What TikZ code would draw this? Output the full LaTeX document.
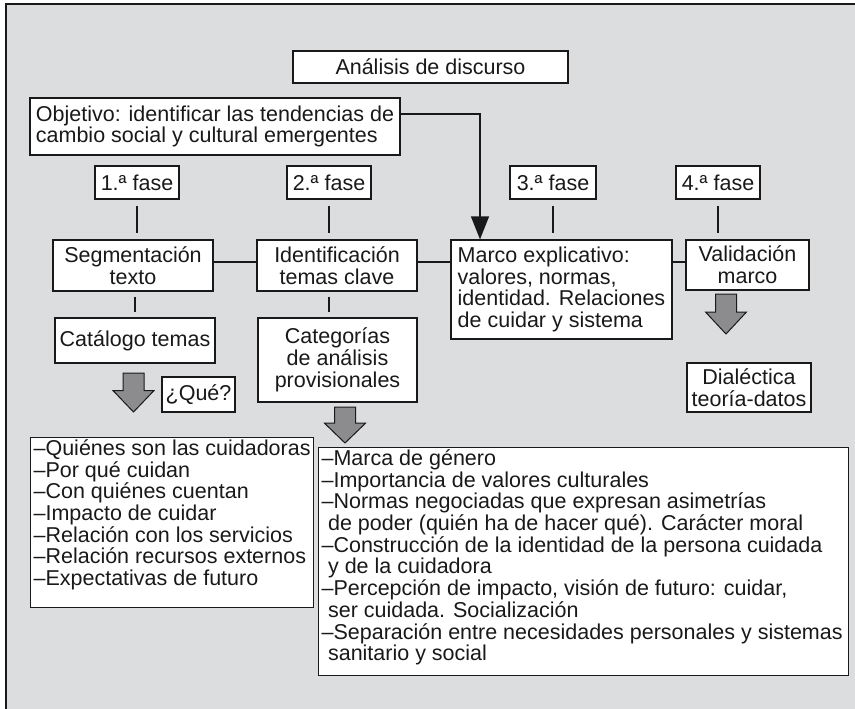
\documentclass[tikz,border=0pt]{standalone}
\usepackage{fontspec}
\setmainfont{Liberation Sans}
\usetikzlibrary{arrows.meta,calc}
\definecolor{bggray}{RGB}{220,221,223}
\definecolor{arrgray}{RGB}{140,140,142}
\definecolor{ink}{RGB}{25,25,25}
\newcommand\fsz{\fontsize{21.5}{21.7}\selectfont}
\newcommand\blockarrow[3]{%
  \draw[garrow] (#1-10.5,#2) -- (#1+10.5,#2) -- (#1+10.5,#2+0.45*#3) -- (#1+20.5,#2+0.45*#3)
    -- (#1,#2+#3) -- (#1-20.5,#2+0.45*#3) -- (#1-10.5,#2+0.45*#3) -- cycle;}
\begin{document}
\begin{tikzpicture}[x=1pt,y=-1pt,
  box/.style={draw=ink, line width=1.2pt, fill=white, inner sep=0pt, font=\fsz, text=ink},
  conn/.style={draw=ink, line width=1.2pt},
  garrow/.style={draw=ink, line width=1pt, fill=arrgray},
  frameline/.style={draw=ink, line width=2pt}]
\useasboundingbox (0,0) rectangle (855,709);
\fill[bggray] (6,4.5) rectangle (855,709);
\draw[frameline] (855,4.5) -- (6,4.5) -- (6,709);

\node[box, minimum width=275, minimum height=32] (ana) at (430.5,67) {Análisis de discurso};
\node[box, minimum width=370, minimum height=57, align=left] (obj) at (215,126.5)
  {Objetivo: identificar las tendencias de\\cambio social y cultural emergentes};

\node[box, minimum width=84, minimum height=33] (f1) at (137,182.5) {1.ª fase};
\node[box, minimum width=84, minimum height=33] (f2) at (329,182.5) {2.ª fase};
\node[box, minimum width=86, minimum height=33] (f3) at (553,182.5) {3.ª fase};
\node[box, minimum width=84, minimum height=33] (f4) at (718,182.5) {4.ª fase};

\node[box, minimum width=160, minimum height=51, align=center] (seg) at (133,265.5) {Segmentación\\texto};
\node[box, minimum width=160, minimum height=51, align=center] (ide) at (337,265.5) {Identificación\\temas clave};
\node[box, minimum width=221, minimum height=99, align=left] (mar) at (561.5,289.5)
  {Marco explicativo:\\valores, normas,\\identidad. Relaciones\\de cuidar y sistema};
\node[box, minimum width=123, minimum height=50, align=center] (val) at (747.5,265) {Validación\\marco};

\node[box, minimum width=160, minimum height=45] (cat) at (135,340.5) {Catálogo temas};
\node[box, minimum width=159, minimum height=84, align=center] (cag) at (337.5,360)
  {Categorías\\de análisis\\provisionales};
\node[box, minimum width=73, minimum height=35] (que) at (198.5,394.5) {¿Qué?};
\node[box, minimum width=124, minimum height=49, align=center] (dia) at (749,387.5) {Dialéctica\\teoría-datos};

\node[box, anchor=north west, inner xsep=3pt, inner ysep=2pt] (qui) at (30,437)
  {\parbox[c][166pt][t]{277pt}{\raggedright
   –Quiénes son las cuidadoras\\
   –Por qué cuidan\\
   –Con quiénes cuentan\\
   –Impacto de cuidar\\
   –Relación con los servicios\\
   –Relación recursos externos\\
   –Expectativas de futuro}};
\node[box, anchor=north west, inner xsep=3pt, inner ysep=2pt] (mca) at (318,447)
  {\parbox[c][224pt][t]{524pt}{\raggedright
   –Marca de género\\
   –Importancia de valores culturales\\
   –Normas negociadas que expresan asimetrías\\
   \hspace*{0.3em}de poder (quién ha de hacer qué). Carácter moral\\
   –Construcción de la identidad de la persona cuidada\\
   \hspace*{0.3em}y de la cuidadora\\
   –Percepción de impacto, visión de futuro: cuidar,\\
   \hspace*{0.3em}ser cuidada. Socialización\\
   –Separación entre necesidades personales y sistemas\\
   \hspace*{0.3em}sanitario y social}};

% connectors
\draw[conn, shorten <=6pt, shorten >=6pt] (f1.south) -- (f1.south |- seg.north);
\draw[conn, shorten <=6pt, shorten >=6pt] (f2.south) -- (f2.south |- ide.north);
\draw[conn, shorten <=6pt, shorten >=6pt] (f3.south) -- (f3.south |- mar.north);
\draw[conn, shorten <=6pt, shorten >=6pt] (f4.south) -- (f4.south |- val.north);
\draw[conn, shorten <=5pt, shorten >=5pt] ([xshift=2pt]seg.south) -- ([xshift=2pt]seg.south |- cat.north);
\draw[conn, shorten <=5pt, shorten >=5pt] ([xshift=-8pt]ide.south) -- ([xshift=-8pt]ide.south |- cag.north);
\draw[conn] ([yshift=3.5pt]seg.east) -- ([yshift=3.5pt]seg.east -| ide.west);
\draw[conn] ([yshift=3.5pt]ide.east) -- ([yshift=3.5pt]ide.east -| mar.west);
\draw[conn] ([yshift=3pt]val.west) -- ([yshift=3pt]val.west -| mar.east);

\coordinate (bend) at (480,114);
\draw[conn, -{Triangle[length=23pt,width=18pt]}] ([yshift=12.5pt]obj.east) -- (bend) -- (bend |- mar.north);

% grey block arrows
\blockarrow{133.5}{373}{39}
\blockarrow{345}{407}{36}
\blockarrow{726}{294}{40}
\end{tikzpicture}
\end{document}
